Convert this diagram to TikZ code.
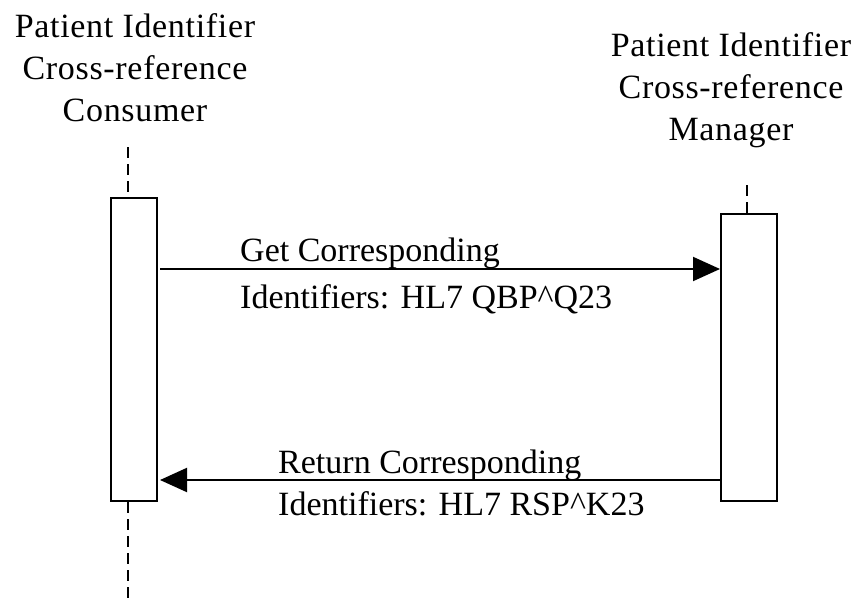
\documentclass[tikz,border=0pt]{standalone}
\usepackage{fontspec}
\setmainfont{Liberation Serif}
\usetikzlibrary{arrows.meta}
\tikzset{
  lbl/.style={font=\fontsize{34}{42}\selectfont\addfontfeature{LetterSpace=2}, inner sep=0pt, align=center},
  msg/.style={font=\fontsize{34}{42}\selectfont, inner sep=0pt, anchor=base west},
  actbox/.style={draw, line width=2pt, fill=white, inner sep=0pt},
  life/.style={line width=2pt, dash pattern=on 11pt off 6pt},
  msgarrow/.style={line width=2pt, -{Triangle[length=27pt,width=24pt]}}
}
\begin{document}
\begin{tikzpicture}[x=1pt,y=-1pt]
\useasboundingbox (0,0) rectangle (854,602);
% headers
\node[lbl] (hcons) at (135,68) {Patient Identifier\\Cross-reference\\Consumer};
\node[lbl] (hman) at (731,90) {Patient Identifier\\Cross-reference\\Manager};
% lifeline coordinates
\coordinate (ltop) at (128,147);
\coordinate (lbot) at (128,602);
\coordinate (rtop) at (747,185);
% activation boxes
\node[actbox, minimum width=46pt, minimum height=303pt, anchor=north west] (lbox) at (110,197) {};
\node[actbox, minimum width=56pt, minimum height=287pt, anchor=north west] (rbox) at (720,213) {};
% lifelines
\draw[life] (ltop) -- (ltop |- lbox.north);
\draw[life] (ltop |- lbox.south) -- (lbot);
\draw[life] (rtop) -- (rtop |- rbox.north);
% message endpoints
\coordinate (m1s) at (160,269);
\coordinate (m2s) at (rbox.west |- 0,480);
\coordinate (m2e) at (160,480);
\draw[msgarrow] (m1s) -- (m1s -| rbox.west);
\draw[msgarrow] (m2s) -- (m2e);
% labels
\node[msg] (t1a) at (240,261) {Get Corresponding};
\node[msg] (t1b) at (240,308) {Identifiers: HL7 QBP\^{}Q23};
\node[msg] (t2a) at (278,473) {Return Corresponding};
\node[msg] (t2b) at (278,515) {Identifiers: HL7 RSP\^{}K23};
\end{tikzpicture}
\end{document}
